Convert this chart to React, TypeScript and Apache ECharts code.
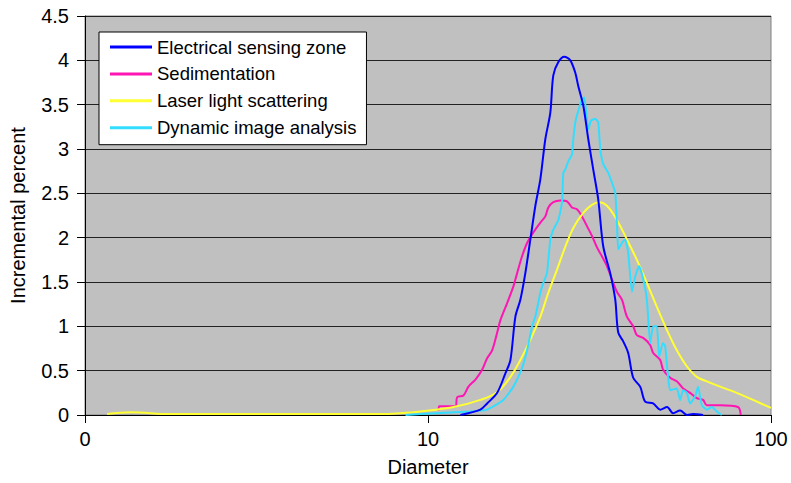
import React, { useEffect, useRef } from "react";
import * as echarts from "echarts";

const seriesNames = [
  "Electrical sensing zone",
  "Sedimentation",
  "Laser light scattering",
  "Dynamic image analysis",
];

const eszDiameter = [12.43, 14.21, 14.87, 15.91, 16.81, 17.39, 17.98, 18.59, 19.22, 19.88, 20.56, 21.26, 21.98, 22.73, 23.19, 23.99, 24.97, 25.99, 26.88, 27.42, 28.36, 29.33, 30.32, 31.36, 32.43, 33.98, 35.15, 35.86, 37.08, 38.34, 39.65, 41.55, 42.97, 45.34, 47.52, 49.79, 51.84, 54.33, 56.94, 59.27, 63.39];
const eszValues = [0, 0.06, 0.13, 0.25, 0.47, 0.62, 1.11, 1.3, 1.6, 1.98, 2.36, 2.66, 3.11, 3.41, 3.83, 3.98, 4.04, 4.0, 3.86, 3.71, 3.49, 3.11, 2.77, 2.43, 1.9, 1.6, 1.3, 0.93, 0.83, 0.7, 0.42, 0.32, 0.15, 0.13, 0.06, 0.09, 0.02, 0.05, 0, 0.01, 0];

const sedDiameter = [10.73, 10.8, 12.03, 12.16, 12.69, 13.12, 13.75, 14.38, 14.87, 15.38, 15.91, 16.26, 17.0, 17.74, 18.19, 18.8, 19.45, 20.28, 21.26, 21.98, 22.43, 23.19, 24.31, 25.42, 26.29, 27.18, 28.11, 29.07, 30.06, 31.09, 32.14, 33.24, 34.37, 35.54, 36.76, 38.01, 39.65, 40.64, 42.4, 44.43, 45.34, 47.52, 48.48, 50.81, 53.14, 55.43, 58.09, 60.76, 63.39, 65.0, 71.06, 80.15, 81.62];
const sedValues = [0.05, 0.1, 0.1, 0.2, 0.22, 0.32, 0.4, 0.51, 0.64, 0.73, 0.93, 1.07, 1.26, 1.45, 1.6, 1.79, 1.94, 2.06, 2.17, 2.24, 2.34, 2.4, 2.42, 2.41, 2.34, 2.32, 2.24, 2.13, 2.02, 1.89, 1.79, 1.68, 1.53, 1.39, 1.3, 1.11, 1.0, 0.9, 0.87, 0.79, 0.7, 0.62, 0.51, 0.42, 0.38, 0.3, 0.25, 0.19, 0.17, 0.11, 0.11, 0.09, 0];

const llsDiameter = [1.16, 1.36, 1.78, 3, 5, 7.3, 8.3, 9.51, 11.87, 14.21, 15.91, 17.39, 18.59, 19.88, 21.26, 22.43, 23.78, 25.14, 26.52, 28.36, 30.06, 31.57, 33.24, 35.54, 38.01, 40.64, 43.46, 46.48, 49.69, 53.14, 56.82, 60.76, 65.0, 71.06, 79.45, 88.64, 100];
const llsValues = [0.01, 0.03, 0.01, 0.01, 0.01, 0.01, 0.02, 0.04, 0.09, 0.17, 0.26, 0.43, 0.62, 0.85, 1.11, 1.38, 1.64, 1.9, 2.11, 2.28, 2.37, 2.4, 2.36, 2.2, 1.98, 1.75, 1.49, 1.22, 0.96, 0.73, 0.55, 0.43, 0.38, 0.32, 0.25, 0.17, 0.08];

const diaDiameter = [8.6, 9.51, 13.3, 14.87, 16.59, 17.74, 18.8, 19.45, 20.11, 20.56, 21.26, 21.69, 22.23, 22.73, 23.19, 23.99, 24.59, 24.8, 25.14, 25.64, 26.29, 26.52, 26.88, 27.42, 28.11, 28.55, 29.07, 29.33, 29.86, 30.73, 31.36, 31.78, 32.43, 33.54, 34.67, 35.15, 35.54, 35.86, 36.76, 37.58, 38.34, 39.31, 40.18, 41.27, 42.4, 43.46, 44.43, 45.34, 46.48, 47.2, 48.38, 49.13, 50.12, 50.81, 53.14, 54.33, 55.43, 56.82, 58.09, 60.08, 61.3, 62.84, 65.0, 67.22, 69.51, 71.87];
const diaValues = [0, 0.01, 0.04, 0.06, 0.17, 0.32, 0.53, 0.73, 1.0, 1.11, 1.38, 1.49, 1.6, 1.98, 2.09, 2.2, 2.4, 2.73, 2.77, 2.86, 2.94, 3.11, 3.3, 3.43, 3.56, 3.58, 3.34, 3.22, 3.32, 3.34, 3.3, 3.0, 2.83, 2.73, 2.58, 2.51, 2.17, 1.87, 1.94, 1.98, 1.83, 1.39, 1.56, 1.68, 1.53, 1.3, 0.81, 1.0, 1.0, 0.66, 0.81, 0.78, 0.43, 0.28, 0.3, 0.17, 0.28, 0.25, 0.13, 0.21, 0.32, 0.11, 0.06, 0.09, 0.04, 0];

const xTickLabels: Record<number, string> = { 1: "0", 10: "10", 100: "100" };

const zip = (xs: number[], ys: number[]) => xs.map((x, i) => [x, ys[i]]);

const FONT = "'Liberation Sans', Arial, sans-serif";

export default function App() {
  const ref = useRef<HTMLDivElement>(null);
  useEffect(() => {
    document.body.style.margin = "0";
    if (!ref.current) return;
    const chart = echarts.init(ref.current, null, { renderer: "svg" });
    const colors = ["#0000FF", "#FF14B4", "#FFFF33", "#33DDFF"];
    const datasets = [
      zip(eszDiameter, eszValues),
      zip(sedDiameter, sedValues),
      zip(llsDiameter, llsValues),
      zip(diaDiameter, diaValues),
    ];
    const zs = [6, 3, 4, 5];
    const smooths = [0.3, 0.3, 0.4, 0.15];
    chart.setOption({
      animation: false,
      textStyle: { fontFamily: FONT },
      grid: {
        left: 84,
        right: 20,
        top: 16,
        bottom: 68,
        show: true,
        backgroundColor: "#C0C0C0",
        borderColor: "#808080",
        borderWidth: 1,
      },
      legend: {
        show: true,
        orient: "vertical",
        left: 99,
        top: 32,
        padding: [4, 10, 6, 11],
        backgroundColor: "#FFFFFF",
        borderColor: "#000000",
        borderWidth: 1,
        borderRadius: 0,
        itemWidth: 42,
        itemHeight: 3,
        itemGap: 4.9,
        icon: "rect",
        selectedMode: false,
        textStyle: { fontSize: 18.5, color: "#000", fontFamily: FONT, lineHeight: 22 },
        data: seriesNames,
      },
      xAxis: {
        type: "log",
        logBase: 10,
        min: 1,
        max: 100,
        name: "Diameter",
        nameLocation: "middle",
        nameGap: 42,
        nameTextStyle: { fontSize: 20, color: "#000", fontFamily: FONT },
        axisLine: { show: true, onZero: false, lineStyle: { color: "#000", width: 1 } },
        axisTick: { show: true, inside: false, length: 8, lineStyle: { color: "#000" } },
        minorTick: { show: false },
        splitLine: { show: false },
        axisLabel: {
          fontSize: 20,
          color: "#000",
          margin: 14,
          fontFamily: FONT,
          formatter: (v: number) => xTickLabels[Math.round(v)] ?? String(v),
        },
      },
      yAxis: {
        type: "value",
        min: 0,
        max: 4.5,
        interval: 0.5,
        name: "Incremental percent",
        nameLocation: "middle",
        nameGap: 57,
        nameTextStyle: { fontSize: 20, color: "#000", fontFamily: FONT },
        axisLine: { show: true, lineStyle: { color: "#000", width: 1 } },
        axisTick: { show: true, inside: false, length: 8, lineStyle: { color: "#000" } },
        splitLine: { show: true, lineStyle: { color: "#222", width: 1 } },
        axisLabel: { fontSize: 20, color: "#000", margin: 16, fontFamily: FONT },
      },
      series: seriesNames.map((name, i) => ({
        name,
        type: "line",
        data: datasets[i],
        showSymbol: false,
        symbol: "none",
        smooth: smooths[i],
        z: zs[i],
        lineStyle: { color: colors[i], width: 2 },
        itemStyle: { color: colors[i] },
      })),
    });
    return () => chart.dispose();
  }, []);
  return <div ref={ref} style={{ width: 791, height: 483 }} />;
}
